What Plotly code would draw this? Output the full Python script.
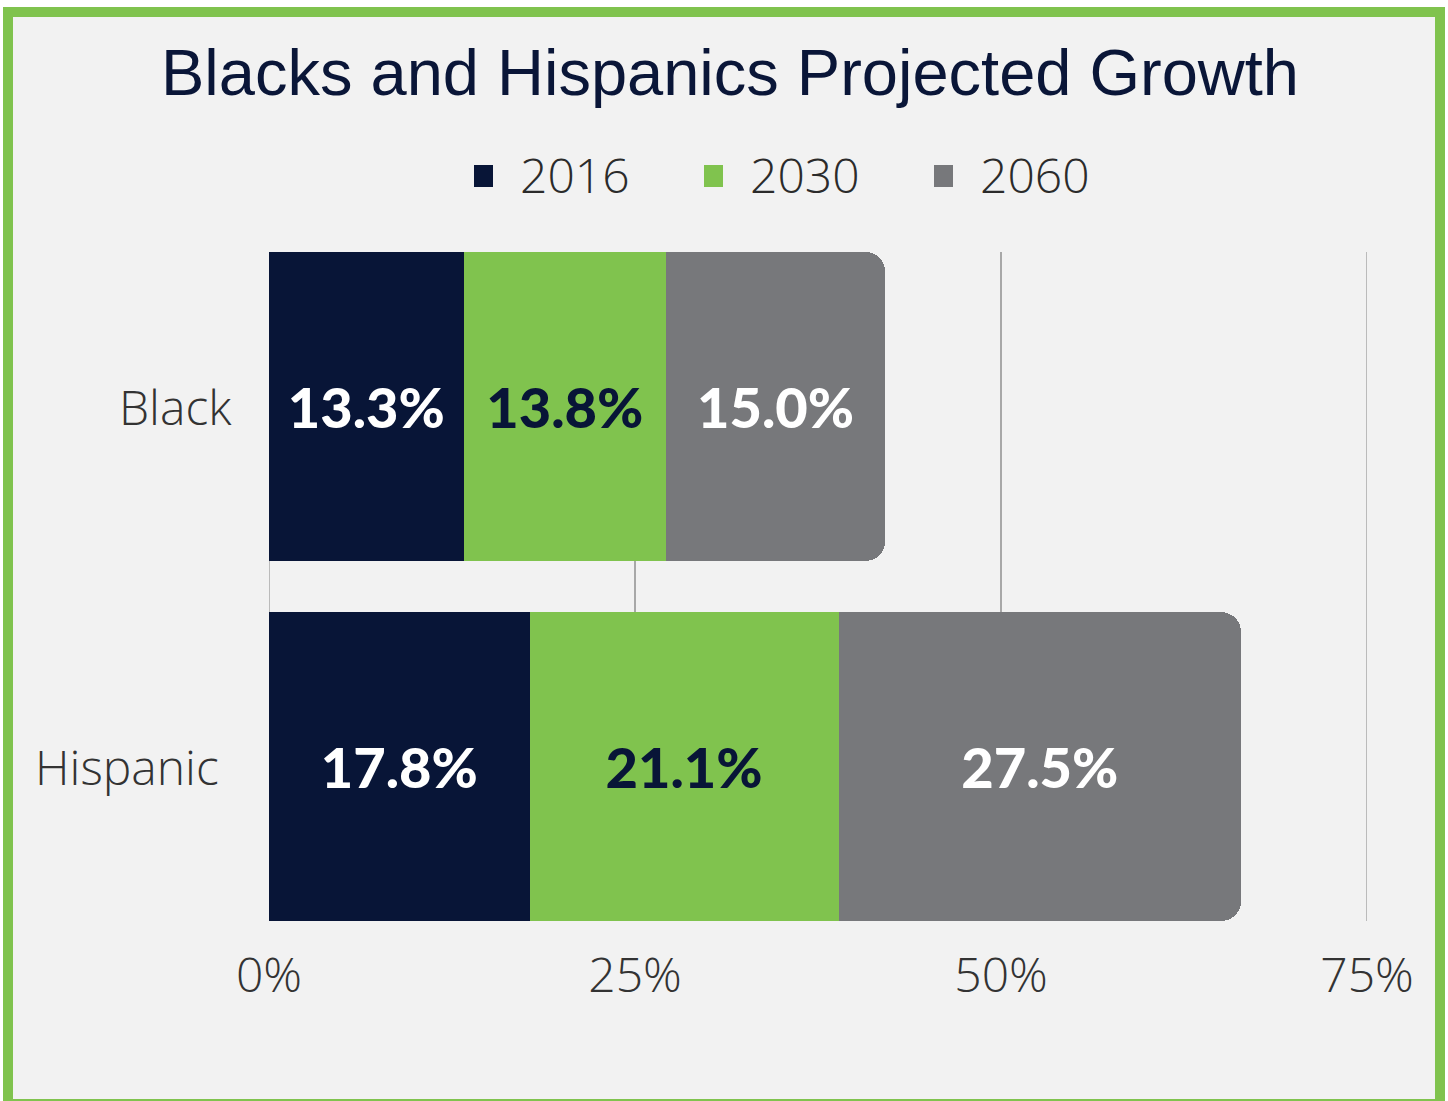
import plotly.graph_objects as go

# Population share by group, three projection years
groups = ["Black", "Hispanic"]
years = ["2016", "2030", "2060"]
share_2016 = [13.3, 17.8]
share_2030 = [13.8, 21.1]
share_2060 = [15.0, 27.5]
x_ticks = [0, 25, 50, 75]
x_tick_text = ["0%", "25%", "50%", "75%"]

series = [share_2016, share_2030, share_2060]
colors = ["#081537", "#80C34E", "#77787B"]
text_colors = ["#FFFFFF", "#081537", "#FFFFFF"]
grid_color = "#A8A8A8"

W, H = 1448, 1101
L, R, T, B = 269, 81, 252, 180
plot_w = W - L - R
plot_h = H - T - B


def px_x(p):
    return (p - L) / plot_w


def px_y(p):
    return (H - B - p) / plot_h


fig = go.Figure()

for name, vals, col, tcol in zip(years, series, colors, text_colors):
    fig.add_trace(go.Bar(
        y=groups, x=vals, orientation="h", name=name,
        marker=dict(color=col, line=dict(width=0)),
        text=[f"{v:.1f}%" for v in vals],
        textposition="inside", insidetextanchor="middle",
        textfont=dict(family="Lato", size=56, color=tcol, weight=900),
        showlegend=False, hoverinfo="skip",
    ))

shapes = [
    # card background with green frame
    dict(
        type="rect", xref="paper", yref="paper", layer="below",
        x0=px_x(8), x1=px_x(1440), y0=px_y(1104), y1=px_y(12),
        fillcolor="#F2F2F2", line=dict(color="#80C34E", width=10),
    )
]
# gridlines sitting on the plot edges (0% and 75%)
for v in (x_ticks[0], x_ticks[-1]):
    shapes.append(dict(
        type="line", xref="x", yref="paper", layer="below",
        x0=v, x1=v, y0=0, y1=1,
        line=dict(color=grid_color, width=1.5),
    ))

annotations = []

# legend row: square swatch + year label
legend_font = dict(family="Open Sans", size=48, color="#2B2B2B", weight=300)
swatch_left = [474, 704, 934]
for name, col, sx in zip(years, colors, swatch_left):
    shapes.append(dict(
        type="rect", xref="paper", yref="paper", layer="above",
        x0=px_x(sx), x1=px_x(sx + 19), y0=px_y(187), y1=px_y(165),
        fillcolor=col, line=dict(width=0),
    ))
    annotations.append(dict(
        text=name, xref="paper", yref="paper",
        x=px_x(sx + 44), y=px_y(174), xanchor="left", yanchor="middle",
        showarrow=False, font=legend_font,
    ))

# category labels left of the bars
label_font = dict(family="Open Sans", size=48, color="#333333", weight=300)
label_right = [234, 221]
for g, rx in zip(groups, label_right):
    annotations.append(dict(
        text=g, xref="paper", yref="y", x=px_x(rx), y=g,
        xanchor="right", yanchor="middle", showarrow=False, font=label_font,
    ))

fig.update_layout(
    width=W, height=H,
    margin=dict(l=L, r=R, t=T, b=B, pad=0),
    paper_bgcolor="#FFFFFF",
    plot_bgcolor="rgba(0,0,0,0)",
    barmode="stack",
    bargap=0.142,
    barcornerradius=20,
    uniformtext=dict(minsize=10, mode="show"),
    showlegend=False,
    title=dict(
        text="Blacks and Hispanics Projected Growth",
        font=dict(family="Liberation Sans, Arial", size=65, color="#0A1638"),
        x=730 / W, xanchor="center", xref="container",
        y=1 - 72 / H, yanchor="middle", yref="container",
    ),
    xaxis=dict(
        range=[0, 75], tickvals=x_ticks, ticktext=x_tick_text,
        showgrid=True, gridcolor=grid_color, gridwidth=1.5,
        zeroline=False, showline=False,
        tickfont=dict(family="Open Sans", size=48, color="#333333", weight=300),
        ticklabelstandoff=22,
        fixedrange=True,
    ),
    yaxis=dict(
        type="category", categoryorder="array",
        categoryarray=["Hispanic", "Black"],
        range=[-0.429, 1.429],
        showgrid=False, zeroline=False, showline=False,
        showticklabels=False,
        fixedrange=True,
    ),
    shapes=shapes,
    annotations=annotations,
)

fig.write_html("out.html")
